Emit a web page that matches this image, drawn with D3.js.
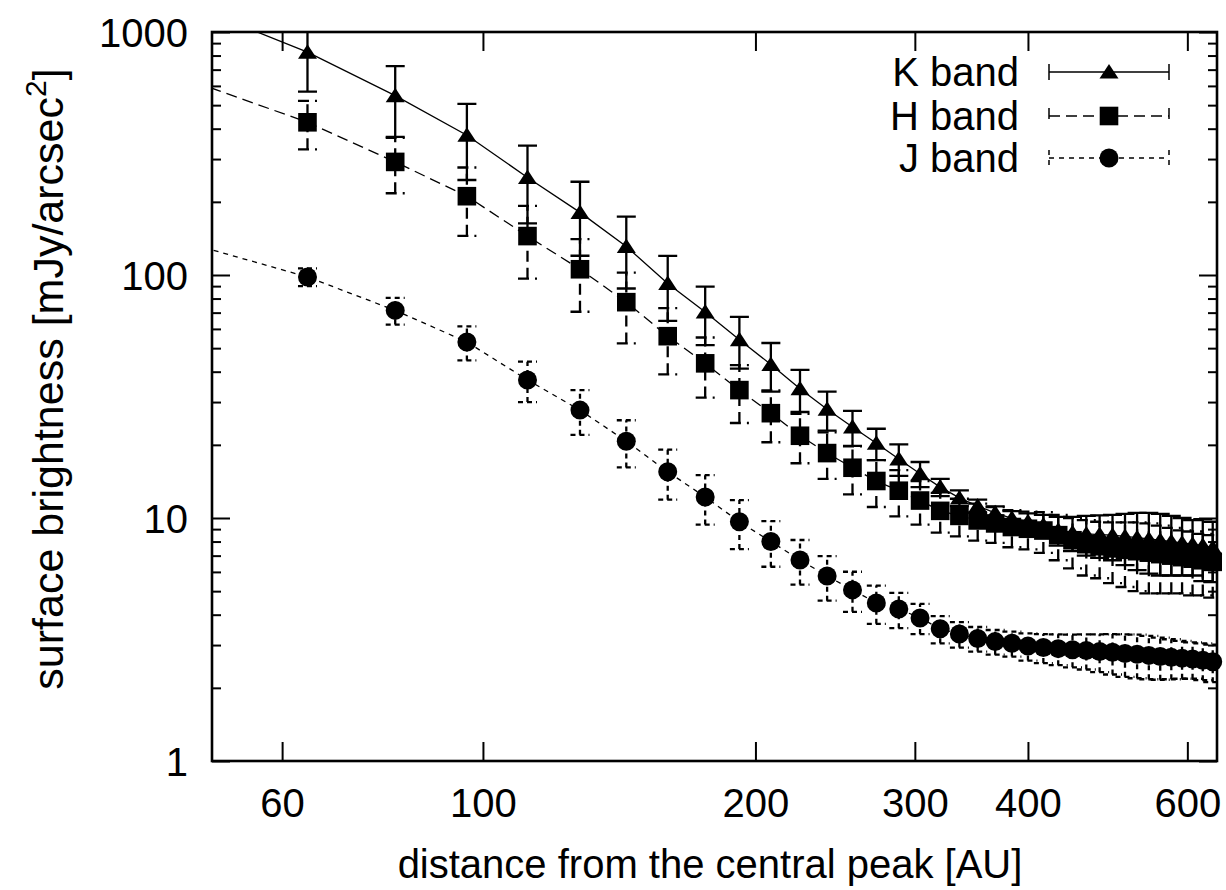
<!DOCTYPE html>
<html>
<head>
<meta charset="utf-8">
<script src="https://cdn.jsdelivr.net/npm/d3@7"></script>
<style>
  body { margin: 0; background: #fff; }
  text { font-family: "Liberation Sans", Arial, Helvetica, sans-serif; fill: #000; }
</style>
</head>
<body>
<svg id="chart" width="1226" height="890"></svg>
<script>
// distance from the central peak [AU]
const distance = [48, 64, 80, 96, 112, 128, 144, 160, 176, 192, 208, 224, 240, 256, 272, 288, 304, 320, 336,
  352, 368, 384, 400, 416, 432, 448, 464, 480, 496, 512, 528, 544, 560, 576, 592, 608, 624, 640]

// surface brightness [mJy/arcsec^2] and errors
const kBand = [1270, 826, 547, 376, 252, 181, 131, 92.3, 70.5, 54.2, 42.8, 34, 28, 23.7, 20.3, 17.5, 15.2, 13.4, 12.1,
  11.2, 10.5, 9.97, 9.65, 9.36, 8.9, 8.7, 8.6, 8.55, 8.5, 8.4, 8.3, 8.2, 8.1, 8.0, 7.9, 7.8, 7.7, 7.55]
const kErr = [400, 258, 177, 130, 89, 61, 43, 27.5, 19, 13, 9.7, 6.7, 5.1, 3.9, 3.0, 2.6, 1.8, 1.1, 0.9,
  0.7, 0.67, 0.7, 0.8, 0.95, 1.2, 1.4, 1.6, 1.7, 1.8, 2.0, 2.2, 2.3, 2.3, 2.2, 2.1, 2.0, 2.2, 2.1]

const hBand = [623, 425, 292, 211, 144.6, 105.6, 77.3, 56, 43.3, 33.6, 27, 21.8, 18.5, 16.1, 14.2, 12.95, 11.8, 10.7, 10.2,
  9.77, 9.5, 9.18, 9.03, 8.88, 8.5, 8.1, 7.8, 7.65, 7.5, 7.4, 7.3, 7.2, 7.1, 7.0, 6.9, 6.8, 6.7, 6.6]
const hErr = [150, 96, 75, 66, 48, 35, 25, 17, 12, 9, 6.5, 5, 4, 3.6, 3.1, 2.8, 2.4, 2.0, 1.8,
  1.7, 1.6, 1.6, 1.6, 1.7, 1.8, 1.9, 2.0, 2.0, 2.1, 2.2, 2.3, 2.3, 2.2, 2.1, 2.0, 2.0, 1.9, 1.9]

const jBand = [133, 98.2, 71.5, 53, 37, 27.8, 20.7, 15.5, 12.2, 9.65, 8.0, 6.72, 5.77, 5.06, 4.47, 4.22, 3.88, 3.5, 3.33,
  3.19, 3.10, 3.05, 2.97, 2.93, 2.9, 2.87, 2.85, 2.82, 2.8, 2.77, 2.75, 2.72, 2.69, 2.67, 2.65, 2.63, 2.6, 2.56]
const jErr = [15, 8.2, 9, 8.5, 7, 5.8, 4.55, 3.6, 2.8, 2.2, 1.7, 1.4, 1.2, 0.95, 0.8, 0.7, 0.55, 0.45, 0.4,
  0.37, 0.36, 0.36, 0.38, 0.4, 0.42, 0.44, 0.47, 0.5, 0.53, 0.55, 0.56, 0.55, 0.53, 0.5, 0.47, 0.45, 0.45, 0.45]

const seriesNames = ['K band', 'H band', 'J band']
const xTicks = [60, 100, 200, 300, 400, 600]
const yTicks = [1, 10, 100, 1000]
const yMinor = [2, 3, 4, 5, 6, 7, 8, 9, 20, 30, 40, 50, 60, 70, 80, 90, 200, 300, 400, 500, 600, 700, 800, 900]

const plotLeft = 212, plotRight = 1217, plotTop = 32, plotBottom = 761

const x = d3.scaleLog().domain([50.2, 647]).range([plotLeft, plotRight])
const y = d3.scaleLog().domain([1, 1000]).range([plotBottom, plotTop])

const styles = [
  { marker: 'triangle', dash: null, errDash: null },
  { marker: 'square', dash: '11,6', errDash: '11,6' },
  { marker: 'circle', dash: '5,5', errDash: '5,4' }
]
const allValues = [kBand, hBand, jBand]
const allErrors = [kErr, hErr, jErr]

const series = seriesNames.map((name, i) => ({
  name,
  ...styles[i],
  points: distance.map((d, k) => ({ x: d, v: allValues[i][k], e: allErrors[i][k] }))
}))

const svg = d3.select('#chart')

svg.append('defs').append('clipPath').attr('id', 'plot-clip')
  .append('rect')
  .attr('x', plotLeft).attr('y', plotTop)
  .attr('width', plotRight - plotLeft).attr('height', plotBottom - plotTop)

function markerPath(type, cx, cy) {
  if (type === 'triangle') {
    return `M${cx},${cy - 8}L${cx + 9.5},${cy + 6.5}L${cx - 9.5},${cy + 6.5}Z`
  }
  if (type === 'square') {
    return `M${cx - 9.3},${cy - 9.3}h18.6v18.6h-18.6Z`
  }
  const r = 9.5
  return `M${cx - r},${cy}a${r},${r} 0 1,0 ${2 * r},0a${r},${r} 0 1,0 ${-2 * r},0Z`
}

// axes (ticks inward, mirrored on top/right)
const fmt = d3.format('d')
const xAxis = svg.append('g')
  .attr('transform', `translate(0,${plotBottom})`)
  .call(d3.axisBottom(x).tickValues(xTicks).tickSize(-19).tickFormat(fmt))
svg.append('g')
  .attr('transform', `translate(0,${plotTop})`)
  .call(d3.axisTop(x).tickValues(xTicks).tickSize(-19).tickFormat(''))
const yAxis = svg.append('g')
  .attr('transform', `translate(${plotLeft},0)`)
  .call(d3.axisLeft(y).tickValues(yTicks).tickSize(-18).tickPadding(24).tickFormat(fmt))
svg.append('g')
  .attr('transform', `translate(${plotLeft},0)`)
  .call(d3.axisLeft(y).tickValues(yMinor).tickSize(-9).tickFormat(''))
svg.append('g')
  .attr('transform', `translate(${plotRight},0)`)
  .call(d3.axisRight(y).tickValues(yTicks).tickSize(-18).tickFormat(''))
svg.append('g')
  .attr('transform', `translate(${plotRight},0)`)
  .call(d3.axisRight(y).tickValues(yMinor).tickSize(-9).tickFormat(''))

svg.selectAll('.domain').remove()
svg.selectAll('.tick line').attr('stroke', '#000').attr('stroke-width', 2)
svg.selectAll('.tick text').attr('font-size', 40).attr('fill', '#000')
  .attr('font-family', '"Liberation Sans", Arial, sans-serif')
xAxis.selectAll('.tick text').attr('y', 56).attr('dy', null)
yAxis.selectAll('.tick text').attr('dy', '0.35em')

// data
const plot = svg.append('g')
const line = d3.line().x(d => x(d.x)).y(d => y(d.v))

series.forEach(s => {
  const g = plot.append('g')
  const inside = s.points.filter(p => p.x >= x.domain()[0] && p.x <= x.domain()[1])

  g.append('path')
    .datum(s.points)
    .attr('clip-path', 'url(#plot-clip)')
    .attr('fill', 'none')
    .attr('stroke', '#000')
    .attr('stroke-width', 1.3)
    .attr('stroke-dasharray', s.dash)
    .attr('d', line)

  const eb = g.append('g')
    .attr('clip-path', 'url(#plot-clip)')
    .attr('fill', 'none')
    .attr('stroke', '#000')
    .attr('stroke-width', 2.3)
    .attr('stroke-dasharray', s.errDash)
  eb.selectAll('path')
    .data(inside)
    .join('path')
    .attr('d', p => {
      const cx = x(p.x)
      const y0 = y(Math.max(p.v - p.e, 0.5))
      const y1 = y(p.v + p.e)
      return `M${cx},${y0}V${y1}M${cx - 9.5},${y1}H${cx + 9.5}M${cx - 9.5},${y0}H${cx + 9.5}`
    })

  g.append('g').selectAll('path')
    .data(inside)
    .join('path')
    .attr('fill', '#000')
    .attr('d', p => markerPath(s.marker, x(p.x), y(p.v)))
})

// frame
svg.append('rect')
  .attr('x', plotLeft).attr('y', plotTop)
  .attr('width', plotRight - plotLeft).attr('height', plotBottom - plotTop)
  .attr('fill', 'none')
  .attr('stroke', '#000')
  .attr('stroke-width', 2.6)

// legend
const legendY = [72, 116, 158]
const legend = svg.append('g')
series.forEach((s, i) => {
  const ly = legendY[i]
  legend.append('text')
    .attr('x', 1019).attr('y', ly)
    .attr('dy', '0.36em')
    .attr('text-anchor', 'end')
    .attr('font-size', 40)
    .text(s.name)
  legend.append('path')
    .attr('fill', 'none')
    .attr('stroke', '#000')
    .attr('stroke-width', 1.5)
    .attr('stroke-dasharray', s.dash)
    .attr('d', `M1049,${ly}H1169M1049,${ly - 8}V${ly + 8}M1169,${ly - 8}V${ly + 8}`)
  legend.append('path')
    .attr('fill', '#000')
    .attr('d', markerPath(s.marker, 1109, ly))
})

// axis titles
svg.append('text')
  .attr('x', 710).attr('y', 878)
  .attr('text-anchor', 'middle')
  .attr('font-size', 40)
  .text('distance from the central peak [AU]')

const yt = svg.append('text')
  .attr('transform', `translate(63,379) rotate(-90)`)
  .attr('text-anchor', 'middle')
  .attr('font-size', 43)
yt.append('tspan').text('surface brightness [mJy/arcsec')
yt.append('tspan').attr('font-size', 30).attr('dy', -17).text('2')
yt.append('tspan').attr('dy', 17).text(']')
</script>
</body>
</html>
